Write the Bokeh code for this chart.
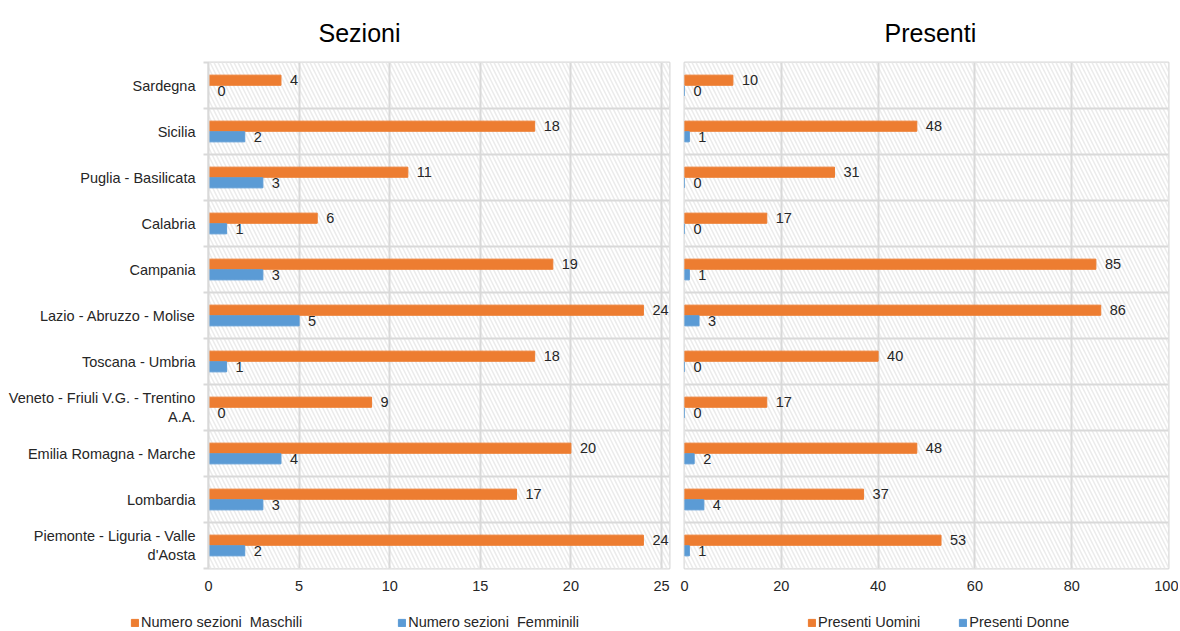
from bokeh.plotting import figure
from bokeh.models import Range1d, FixedTicker, BoxAnnotation, Legend, LegendItem, ColumnDataSource
from bokeh.layouts import row, column
from bokeh.embed import file_html
from bokeh.resources import INLINE
from bokeh.core.properties import value

regions = ["Sardegna", "Sicilia", "Puglia - Basilicata", "Calabria", "Campania",
           "Lazio - Abruzzo - Molise", "Toscana - Umbria",
           "Veneto - Friuli V.G. - Trentino\nA.A.", "Emilia Romagna - Marche",
           "Lombardia", "Piemonte - Liguria - Valle\nd'Aosta"]
sezioni_maschili = [4, 18, 11, 6, 19, 24, 18, 9, 20, 17, 24]
sezioni_femminili = [0, 2, 3, 1, 3, 5, 1, 0, 4, 3, 2]
presenti_uomini = [10, 48, 31, 17, 85, 86, 40, 17, 48, 37, 53]
presenti_donne = [0, 1, 0, 0, 1, 3, 0, 0, 2, 4, 1]
ticks_sezioni = [0, 5, 10, 15, 20, 25]
ticks_presenti = [0, 20, 40, 60, 80, 100]

ORANGE = "#ED7D31"
BLUE = "#5B9BD5"
GRID = "#d9d9d9"
TXT = "#262626"
FONT = "Liberation Sans"
FS = "14.5px"

n = len(regions)
centers = [n - i - 0.5 for i in range(n)]
bounds = list(range(n + 1))
OFF = 0.115
BH = 0.22


def build(title, vals_m, vals_f, ticks, xmax, names, show_labels, width,
          mb_left, mb_right, title_off):
    p = figure(width=width, height=602, output_backend="svg", toolbar_location=None,
               x_range=Range1d(0, xmax), y_range=Range1d(0, n),
               min_border_left=mb_left, min_border_right=mb_right,
               min_border_top=61, min_border_bottom=34)
    p.background_fill_color = "white"
    p.border_fill_color = "white"
    p.outline_line_color = GRID
    p.outline_line_width = 2

    hatch = BoxAnnotation(fill_color="white", fill_alpha=1, line_alpha=0,
                          hatch_pattern="\\", hatch_color="#ebebeb",
                          hatch_scale=8, hatch_weight=1.5, level="image")
    p.add_layout(hatch)

    src = ColumnDataSource(dict(
        ym=[c + OFF for c in centers], yf=[c - OFF for c in centers],
        m=vals_m, f=vals_f,
        ml=[str(v) for v in vals_m], fl=[str(v) for v in vals_f]))
    p.hbar(y="ym", left=0, right="m", height=BH, color=ORANGE, source=src)
    p.hbar(y="yf", left=0, right="f", height=BH, color=BLUE, source=src)
    for ycol, vcol, lcol in (("ym", "m", "ml"), ("yf", "f", "fl")):
        p.text(x=vcol, y=ycol, text=lcol, source=src, x_offset=9,
               text_align="left", text_baseline="middle",
               text_font=value(FONT), text_font_size=FS, text_color=TXT)

    p.xaxis.ticker = FixedTicker(ticks=ticks)
    p.xaxis.axis_line_color = None
    p.xaxis.major_tick_line_color = None
    p.xaxis.minor_tick_line_color = None
    p.xaxis.major_label_standoff = 6
    p.xaxis.major_label_text_font = FONT
    p.xaxis.major_label_text_font_size = FS
    p.xaxis.major_label_text_color = TXT
    p.xgrid.grid_line_color = GRID
    p.xgrid.grid_line_width = 2

    p.ygrid.ticker = FixedTicker(ticks=bounds)
    p.ygrid.grid_line_color = GRID
    p.ygrid.grid_line_width = 2

    if show_labels:
        p.yaxis.ticker = FixedTicker(ticks=centers, minor_ticks=bounds)
        p.yaxis.major_label_overrides = {c: names[i] for i, c in enumerate(centers)}
        p.yaxis.major_tick_out = 0
        p.yaxis.major_tick_in = 0
        p.yaxis.minor_tick_out = 5
        p.yaxis.minor_tick_in = 0
        p.yaxis.minor_tick_line_color = GRID
        p.yaxis.minor_tick_line_width = 2
        p.yaxis.axis_line_color = GRID
        p.yaxis.axis_line_width = 2
        p.yaxis.major_label_standoff = 8
        p.yaxis.major_label_text_font = FONT
        p.yaxis.major_label_text_font_size = FS
        p.yaxis.major_label_text_color = TXT
    else:
        p.yaxis.visible = False

    p.title.text = title
    p.title.align = "left"
    p.title.offset = title_off
    p.title.standoff = 32
    p.title.text_font = FONT
    p.title.text_font_size = "25px"
    p.title.text_font_style = "normal"
    p.title.text_color = "black"
    return p


def legend_fig(width, lab_m, lab_f, leg_x, spacing):
    lf = figure(width=width, height=29, output_backend="svg", toolbar_location=None,
                x_range=Range1d(0, 1), y_range=Range1d(0, 1),
                x_axis_location=None, y_axis_location=None,
                min_border_left=0, min_border_right=0, min_border_top=0,
                min_border_bottom=0)
    lf.outline_line_color = None
    lf.grid.visible = False
    lf.border_fill_color = "white"
    # zero-width placeholder bars: only their colours are used by the legend
    key = ColumnDataSource(dict(y=[0.5], l=[0], r=[0]))
    rm = lf.hbar(y="y", left="l", right="r", height=0, color=ORANGE, source=key)
    rf = lf.hbar(y="y", left="l", right="r", height=0, color=BLUE, source=key)
    legend = Legend(items=[LegendItem(label=lab_m, renderers=[rm], index=0),
                           LegendItem(label=lab_f, renderers=[rf], index=0)],
                    orientation="horizontal", location=(leg_x, 1),
                    glyph_width=9, glyph_height=9, label_standoff=2,
                    label_height=16, label_text_font=FONT,
                    label_text_font_size=FS, label_text_color=TXT,
                    spacing=spacing, padding=0, margin=0,
                    border_line_color=None, background_fill_alpha=0)
    lf.add_layout(legend, "center")
    return lf


p1 = build("Sezioni", sezioni_maschili, sezioni_femminili,
           ticks_sezioni, 25.44, regions, True, 674, 208, 5, 110)
p2 = build("Presenti", presenti_uomini, presenti_donne,
           ticks_presenti, 100, regions, False, 504, 10, 10, 200)
l1 = legend_fig(674, "Numero sezioni  Maschili", "Numero sezioni  Femminili", 130, 95)
l2 = legend_fig(504, "Presenti Uomini", "Presenti Donne", 133, 38)

layout = column(row(p1, p2), row(l1, l2))
open("out.html", "w").write(file_html(layout, INLINE))
